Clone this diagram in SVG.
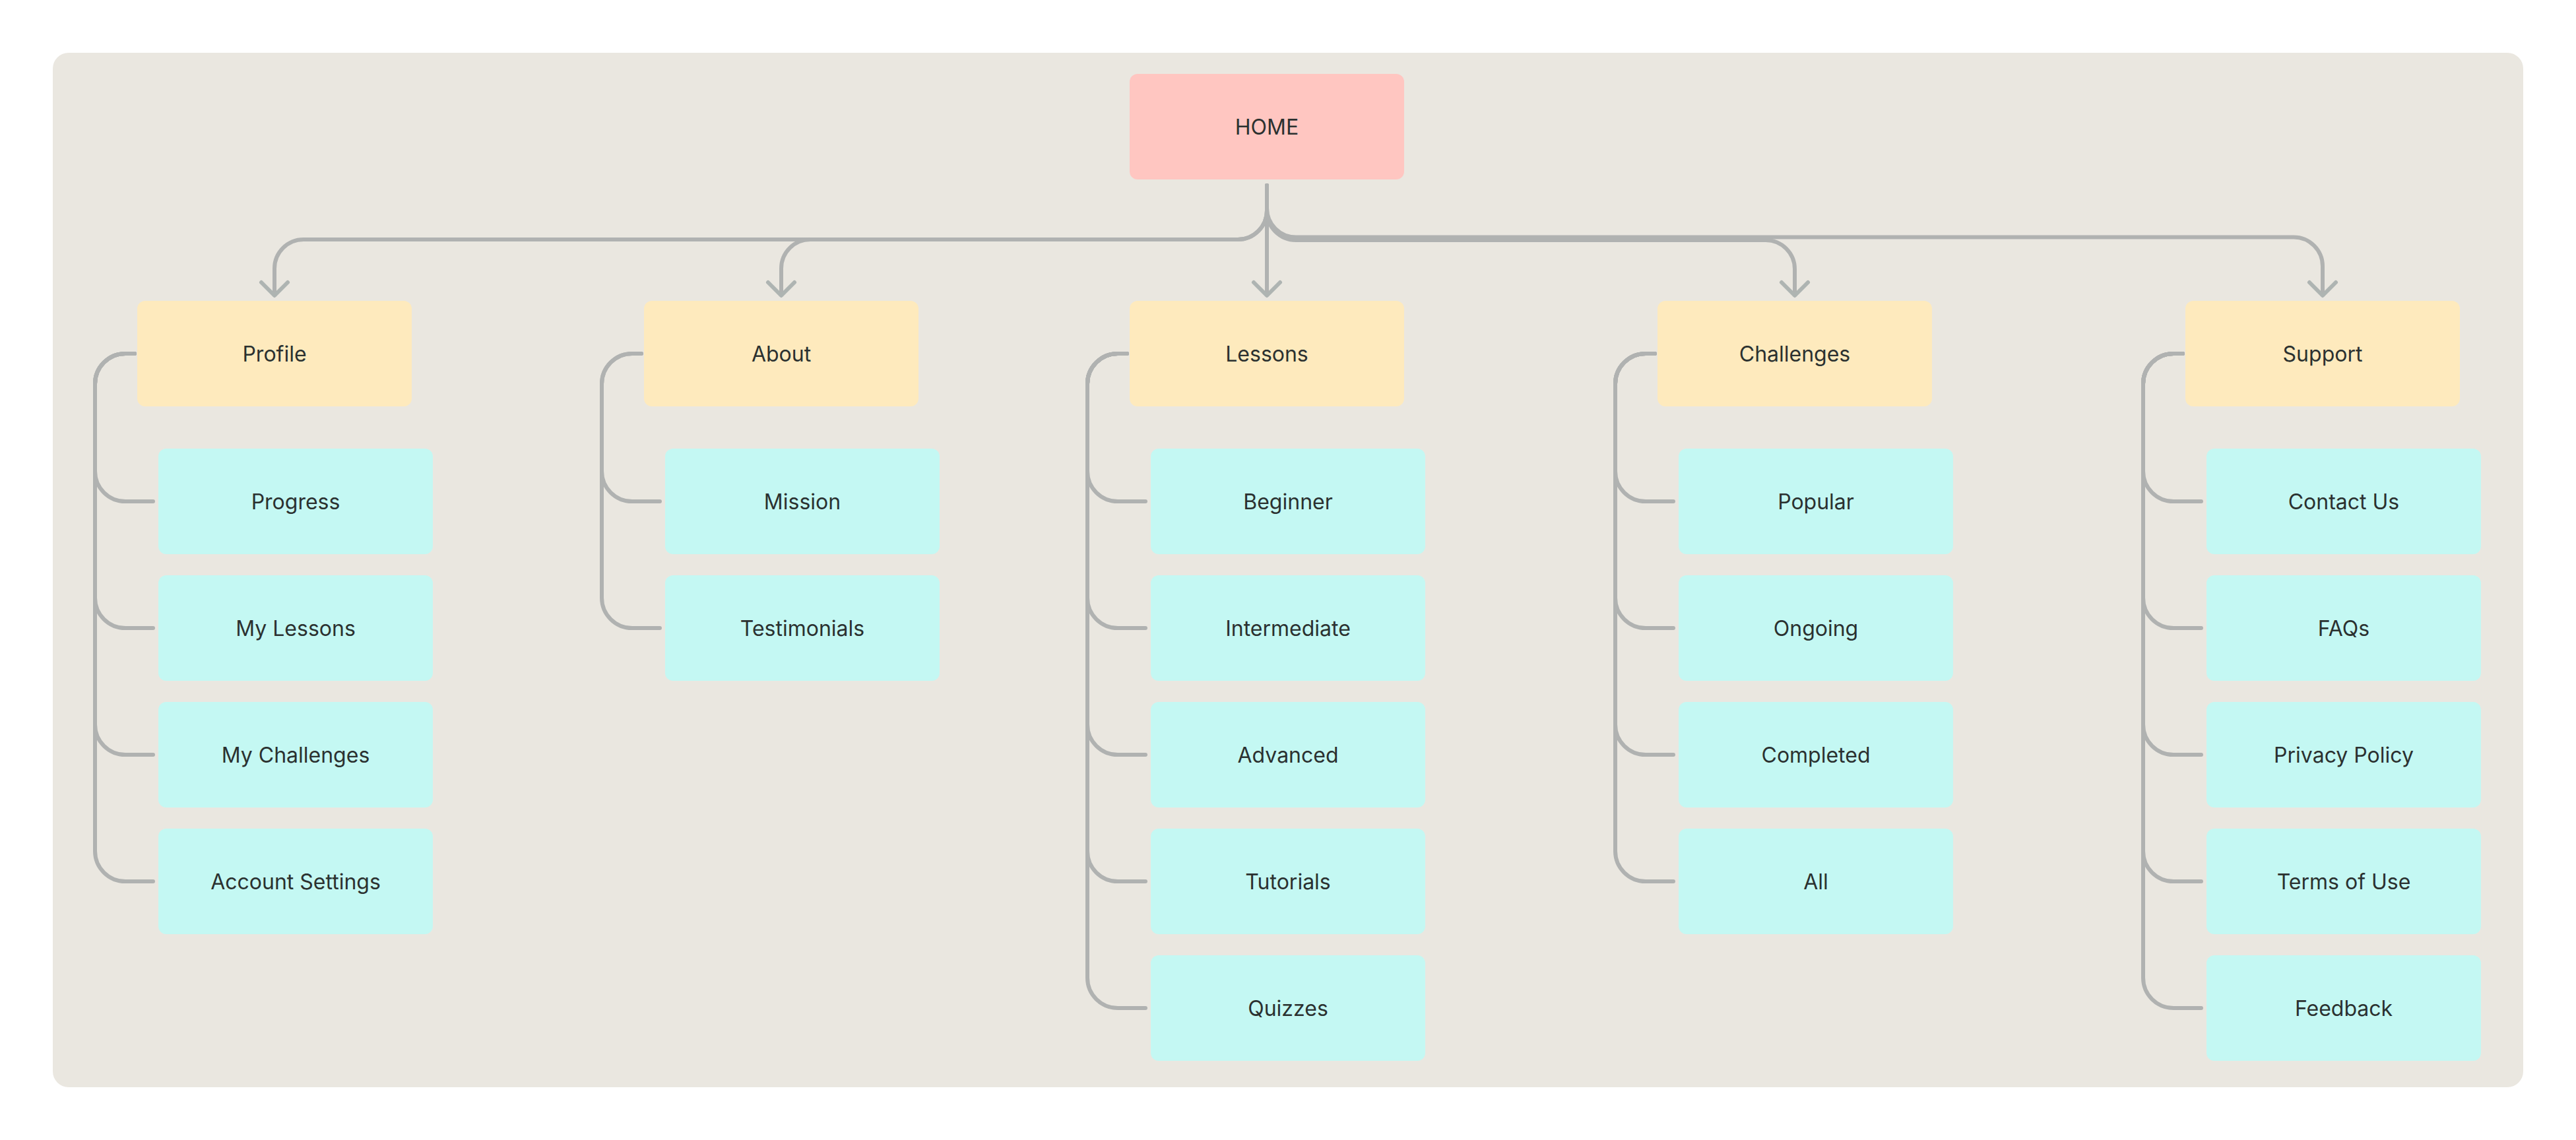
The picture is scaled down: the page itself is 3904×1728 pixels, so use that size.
<svg xmlns="http://www.w3.org/2000/svg" width="3904" height="1728" viewBox="0 0 3904 1728">
<style>
.bg{fill:#eae7e0}
.home{fill:#ffc6c1}
.cat{fill:#feeabd}
.leaf{fill:#c4f8f3}
.lbl{font-family:Inter,"Noto Sans","Liberation Sans",sans-serif;font-size:32px;fill:#2b3130;text-anchor:middle}
.ln{fill:none;stroke:#b0b2b1;stroke-width:6;stroke-linecap:round;stroke-linejoin:round}
.ar{fill:none;stroke:#aeb4b2;stroke-width:6;stroke-linecap:round;stroke-linejoin:round}
</style>
<rect width="3904" height="1728" fill="#ffffff"/>
<rect class="bg" x="80" y="80" width="3744" height="1568" rx="24"/>

<g id="connectors">
  <path class="ln" d="M1920,281 V447"/>
  <path class="ln" d="M1920,281 V319 A44,44 0 0 1 1876,363 H460 A44,44 0 0 0 416,407 V447"/>
  <path class="ln" d="M1920,281 V319 A44,44 0 0 1 1876,363 H1228 A44,44 0 0 0 1184,407 V447"/>
  <path class="ln" d="M1920,281 V320 A44,44 0 0 0 1964,364 H2676 A44,44 0 0 1 2720,408 V447"/>
  <path class="ln" d="M1920,281 V315.5 A44,44 0 0 0 1964,359.5 H3476 A44,44 0 0 1 3520,403.5 V447"/>
  <path class="ar" d="M396,428 L416,448 L436,428"/>
  <path class="ar" d="M1164,428 L1184,448 L1204,428"/>
  <path class="ar" d="M1900,428 L1920,448 L1940,428"/>
  <path class="ar" d="M2700,428 L2720,448 L2740,428"/>
  <path class="ar" d="M3500,428 L3520,448 L3540,428"/>
  <!-- Profile brackets -->
  <path class="ln" d="M204,536 H190 A46,46 0 0 0 144,582 V714 A46,46 0 0 0 190,760 H232"/>
  <path class="ln" d="M204,536 H190 A46,46 0 0 0 144,582 V906 A46,46 0 0 0 190,952 H232"/>
  <path class="ln" d="M204,536 H190 A46,46 0 0 0 144,582 V1098 A46,46 0 0 0 190,1144 H232"/>
  <path class="ln" d="M204,536 H190 A46,46 0 0 0 144,582 V1290 A46,46 0 0 0 190,1336 H232"/>
  <!-- About brackets -->
  <path class="ln" d="M972,536 H958 A46,46 0 0 0 912,582 V714 A46,46 0 0 0 958,760 H1000"/>
  <path class="ln" d="M972,536 H958 A46,46 0 0 0 912,582 V906 A46,46 0 0 0 958,952 H1000"/>
  <!-- Lessons brackets -->
  <path class="ln" d="M1708,536 H1694 A46,46 0 0 0 1648,582 V714 A46,46 0 0 0 1694,760 H1736"/>
  <path class="ln" d="M1708,536 H1694 A46,46 0 0 0 1648,582 V906 A46,46 0 0 0 1694,952 H1736"/>
  <path class="ln" d="M1708,536 H1694 A46,46 0 0 0 1648,582 V1098 A46,46 0 0 0 1694,1144 H1736"/>
  <path class="ln" d="M1708,536 H1694 A46,46 0 0 0 1648,582 V1290 A46,46 0 0 0 1694,1336 H1736"/>
  <path class="ln" d="M1708,536 H1694 A46,46 0 0 0 1648,582 V1482 A46,46 0 0 0 1694,1528 H1736"/>
  <!-- Challenges brackets -->
  <path class="ln" d="M2508,536 H2494 A46,46 0 0 0 2448,582 V714 A46,46 0 0 0 2494,760 H2536"/>
  <path class="ln" d="M2508,536 H2494 A46,46 0 0 0 2448,582 V906 A46,46 0 0 0 2494,952 H2536"/>
  <path class="ln" d="M2508,536 H2494 A46,46 0 0 0 2448,582 V1098 A46,46 0 0 0 2494,1144 H2536"/>
  <path class="ln" d="M2508,536 H2494 A46,46 0 0 0 2448,582 V1290 A46,46 0 0 0 2494,1336 H2536"/>
  <!-- Support brackets -->
  <path class="ln" d="M3308,536 H3294 A46,46 0 0 0 3248,582 V714 A46,46 0 0 0 3294,760 H3336"/>
  <path class="ln" d="M3308,536 H3294 A46,46 0 0 0 3248,582 V906 A46,46 0 0 0 3294,952 H3336"/>
  <path class="ln" d="M3308,536 H3294 A46,46 0 0 0 3248,582 V1098 A46,46 0 0 0 3294,1144 H3336"/>
  <path class="ln" d="M3308,536 H3294 A46,46 0 0 0 3248,582 V1290 A46,46 0 0 0 3294,1336 H3336"/>
  <path class="ln" d="M3308,536 H3294 A46,46 0 0 0 3248,582 V1482 A46,46 0 0 0 3294,1528 H3336"/>
</g>

<g id="home"><rect class="home" x="1712" y="112" width="416" height="160" rx="12"/><text class="lbl" x="1920" y="204">HOME</text></g>

<g id="profile"><rect class="cat" x="208" y="456" width="416" height="160" rx="12"/><text class="lbl" x="416" y="548">Profile</text></g>
<g id="about"><rect class="cat" x="976" y="456" width="416" height="160" rx="12"/><text class="lbl" x="1184" y="548">About</text></g>
<g id="lessons"><rect class="cat" x="1712" y="456" width="416" height="160" rx="12"/><text class="lbl" x="1920" y="548">Lessons</text></g>
<g id="challenges"><rect class="cat" x="2512" y="456" width="416" height="160" rx="12"/><text class="lbl" x="2720" y="548">Challenges</text></g>
<g id="support"><rect class="cat" x="3312" y="456" width="416" height="160" rx="12"/><text class="lbl" x="3520" y="548">Support</text></g>

<g id="progress"><rect class="leaf" x="240" y="680" width="416" height="160" rx="12"/><text class="lbl" x="448" y="772">Progress</text></g>
<g id="my-lessons"><rect class="leaf" x="240" y="872" width="416" height="160" rx="12"/><text class="lbl" x="448" y="964">My Lessons</text></g>
<g id="my-challenges"><rect class="leaf" x="240" y="1064" width="416" height="160" rx="12"/><text class="lbl" x="448" y="1156">My Challenges</text></g>
<g id="account-settings"><rect class="leaf" x="240" y="1256" width="416" height="160" rx="12"/><text class="lbl" x="448" y="1348">Account Settings</text></g>

<g id="mission"><rect class="leaf" x="1008" y="680" width="416" height="160" rx="12"/><text class="lbl" x="1216" y="772">Mission</text></g>
<g id="testimonials"><rect class="leaf" x="1008" y="872" width="416" height="160" rx="12"/><text class="lbl" x="1216" y="964">Testimonials</text></g>

<g id="beginner"><rect class="leaf" x="1744" y="680" width="416" height="160" rx="12"/><text class="lbl" x="1952" y="772">Beginner</text></g>
<g id="intermediate"><rect class="leaf" x="1744" y="872" width="416" height="160" rx="12"/><text class="lbl" x="1952" y="964">Intermediate</text></g>
<g id="advanced"><rect class="leaf" x="1744" y="1064" width="416" height="160" rx="12"/><text class="lbl" x="1952" y="1156">Advanced</text></g>
<g id="tutorials"><rect class="leaf" x="1744" y="1256" width="416" height="160" rx="12"/><text class="lbl" x="1952" y="1348">Tutorials</text></g>
<g id="quizzes"><rect class="leaf" x="1744" y="1448" width="416" height="160" rx="12"/><text class="lbl" x="1952" y="1540">Quizzes</text></g>

<g id="popular"><rect class="leaf" x="2544" y="680" width="416" height="160" rx="12"/><text class="lbl" x="2752" y="772">Popular</text></g>
<g id="ongoing"><rect class="leaf" x="2544" y="872" width="416" height="160" rx="12"/><text class="lbl" x="2752" y="964">Ongoing</text></g>
<g id="completed"><rect class="leaf" x="2544" y="1064" width="416" height="160" rx="12"/><text class="lbl" x="2752" y="1156">Completed</text></g>
<g id="all"><rect class="leaf" x="2544" y="1256" width="416" height="160" rx="12"/><text class="lbl" x="2752" y="1348">All</text></g>

<g id="contact-us"><rect class="leaf" x="3344" y="680" width="416" height="160" rx="12"/><text class="lbl" x="3552" y="772">Contact Us</text></g>
<g id="faqs"><rect class="leaf" x="3344" y="872" width="416" height="160" rx="12"/><text class="lbl" x="3552" y="964">FAQs</text></g>
<g id="privacy-policy"><rect class="leaf" x="3344" y="1064" width="416" height="160" rx="12"/><text class="lbl" x="3552" y="1156">Privacy Policy</text></g>
<g id="terms-of-use"><rect class="leaf" x="3344" y="1256" width="416" height="160" rx="12"/><text class="lbl" x="3552" y="1348">Terms of Use</text></g>
<g id="feedback"><rect class="leaf" x="3344" y="1448" width="416" height="160" rx="12"/><text class="lbl" x="3552" y="1540">Feedback</text></g>
</svg>
